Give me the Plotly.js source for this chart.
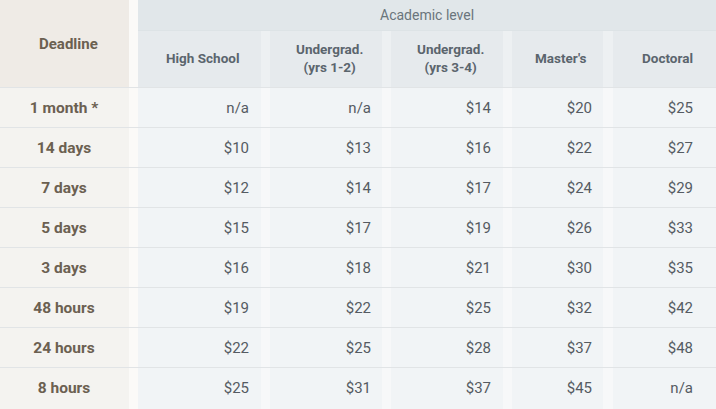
<!DOCTYPE html>
<html>
<head>
<meta charset="utf-8">
<script src="https://cdn.plot.ly/plotly-3.0.1.min.js"></script>
<style>html,body{margin:0;padding:0;background:#fff;}#chart{width:716px;height:409px;}</style>
</head>
<body>
<div id="chart"></div>
<script>
// ---- data ----
const deadlines = ["1 month *", "14 days", "7 days", "5 days", "3 days", "48 hours", "24 hours", "8 hours"];
const levels = ["High School", "Undergrad.<br>(yrs 1-2)", "Undergrad.<br>(yrs 3-4)", "Master's", "Doctoral"];
const groupTitle = "Academic level";
const deadlineTitle = "Deadline";
const highSchool = [null, 10, 12, 15, 16, 19, 22, 25];
const undergrad12 = [null, 13, 14, 17, 18, 22, 25, 31];
const undergrad34 = [14, 16, 17, 19, 21, 25, 28, 37];
const masters = [20, 22, 24, 26, 30, 32, 37, 45];
const doctoral = [25, 27, 29, 33, 35, 42, 48, null];
const series = [highSchool, undergrad12, undergrad34, masters, doctoral];

// ---- layout / style ----
const W = 716, H = 409;
const deadlineCol = [0, 129];
const valueCols = [[138, 261], [270, 382], [391, 503], [512, 603], [613, 716]];
const textRight = [249, 371, 491, 592, 693];
const headerTop = 30, headerBottom = 88, rowH = 40, textShift = 1.5;
// y axis in row-index units: row i text centred at headerBottom + rowH*(i+0.5) + textShift
const px2row = p => (p - headerBottom - textShift) / rowH - 0.5;

const C = {
  dlHead: "#efebe6", dlBody: "#f4f3f0", gapDl: "#fbfaf8",
  banner: "#e1e7ea", sub: "#e6eaed", subGap: "#edf0f2",
  body: "#f1f4f6", bodyGap: "#f7f8f9", line: "#e1e4e6",
  dlText: "#6b6051", headText: "#5b656d", valText: "#555b62", bannerText: "#6a757c"
};

const shapes = [];
function rect(x0, x1, p0, p1, color) {
  shapes.push({type: "rect", xref: "x", yref: "y", x0: x0, x1: x1, y0: px2row(p0), y1: px2row(p1),
    fillcolor: color, line: {width: 0}, layer: "below"});
}
function hline(x0, x1, p, color) {
  shapes.push({type: "line", xref: "x", yref: "y", x0: x0, x1: x1, y0: px2row(p), y1: px2row(p),
    line: {color: color, width: 1}, layer: "below"});
}
// deadline column
rect(deadlineCol[0], deadlineCol[1], 0, headerBottom, C.dlHead);
rect(deadlineCol[0], deadlineCol[1], headerBottom, H, C.dlBody);
rect(deadlineCol[1], valueCols[0][0], 0, H, C.gapDl);
// banner
rect(valueCols[0][0], W, 0, headerTop, C.banner);
// value columns and gaps
valueCols.forEach((c, k) => {
  rect(c[0], c[1], headerTop, headerBottom, C.sub);
  rect(c[0], c[1], headerBottom, H, C.body);
  if (k > 0) {
    const g0 = valueCols[k - 1][1];
    rect(g0, c[0], headerTop, headerBottom, C.subGap);
    rect(g0, c[0], headerBottom, H, C.bodyGap);
  }
});
// horizontal rules
hline(valueCols[0][0], W, headerTop + 0.5, "#dde3e6");
for (let i = 0; i < deadlines.length; i++) {
  hline(0, W, headerBottom + rowH * i - 0.5, C.line);
}

const annotations = [];
annotations.push({xref: "x", yref: "y", x: (deadlineCol[0] + deadlineCol[1]) / 2 + 4, y: px2row(44),
  text: "<b>" + deadlineTitle + "</b>", showarrow: false, font: {family: "Roboto", size: 15, color: C.dlText}});
annotations.push({xref: "x", yref: "y", x: (valueCols[0][0] + W) / 2, y: px2row(15),
  text: groupTitle, showarrow: false, font: {family: "Roboto", size: 14, color: C.bannerText}});
levels.forEach((lv, k) => {
  const c = valueCols[k];
  annotations.push({xref: "x", yref: "y", x: (c[0] + c[1]) / 2 + 3, y: px2row(58),
    text: "<b>" + lv + "</b>", showarrow: false, font: {family: "Roboto", size: 13.5, color: C.headText}});
});

const traces = [];
traces.push({type: "scatter", mode: "text", x: deadlines.map(() => 64), y: deadlines,
  text: deadlines.map(d => "<b>" + d + "</b>"), textposition: "middle center",
  textfont: {family: "Roboto", size: 15.5, color: C.dlText}, hoverinfo: "skip", showlegend: false, cliponaxis: false});
series.forEach((s, k) => {
  traces.push({type: "scatter", mode: "text", x: deadlines.map(() => textRight[k]), y: deadlines,
    text: s.map(v => v === null ? "n/a" : "$" + v), textposition: "middle left",
    textfont: {family: "Roboto", size: 15, color: C.valText}, hoverinfo: "skip", showlegend: false, cliponaxis: false});
});

const layout = {
  width: W, height: H, margin: {l: 0, r: 0, t: 0, b: 0},
  paper_bgcolor: "#ffffff", plot_bgcolor: "#ffffff", showlegend: false,
  xaxis: {range: [0, W], visible: false, fixedrange: true},
  yaxis: {type: "category", categoryarray: deadlines, categoryorder: "array",
    range: [px2row(H), px2row(0)], visible: false, fixedrange: true},
  shapes: shapes, annotations: annotations
};
Plotly.newPlot("chart", traces, layout, {displayModeBar: false, staticPlot: true});
</script>
</body>
</html>
